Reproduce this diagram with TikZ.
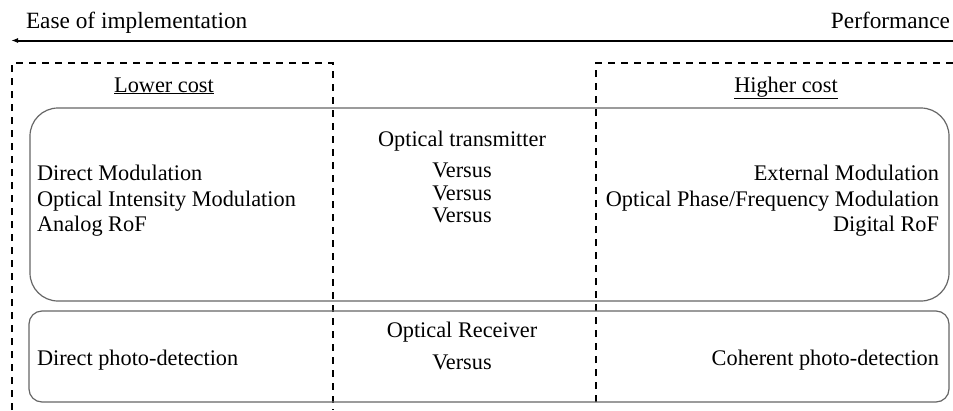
\documentclass[tikz,border=0pt]{standalone}
\usepackage{fontspec}
\setmainfont{Liberation Serif}
\usetikzlibrary{arrows.meta}
\begin{document}
\begin{tikzpicture}[x=1pt,y=-1pt,
  every node/.style={inner sep=0pt,outer sep=0pt,font=\fontsize{22.3}{26}\selectfont},
  toplbl/.style={font=\fontsize{23.3}{27}\selectfont},
  dashbox/.style={line width=1.9pt,dash pattern=on 7pt off 6pt},
  roundbox/.style={draw=black!60,line width=1.2pt},
  lbl/.style={anchor=base west},
  rlbl/.style={anchor=base east},
  clbl/.style={anchor=base}]
\useasboundingbox (0,0) rectangle (953,410);
% top labels and arrow
\node[lbl,toplbl] (ease) at (26,28) {Ease of implementation};
\node[rlbl,toplbl] (perf) at (950,28) {Performance};
\coordinate (arrR) at (953,40.5);
\coordinate (arrL) at (11,40.5);
\draw[line width=2pt,-{Latex[length=7pt,width=5pt]}] (arrR) -- (arrL);
% dashed boxes
\draw[dashbox] (12,410) -- (12,63) -- (333,63) -- (333,410);
\draw[dashbox] (596,402) -- (596,63) -- (953,63);
\node[clbl] (low) at (164,92) {\underline{Lower cost}};
\node[clbl] (high) at (786,92) {\underline{Higher cost}};
% rounded boxes
\draw[roundbox,rounded corners=28pt] (30,108) rectangle (949,301);
\draw[roundbox,rounded corners=13pt] (29,311) rectangle (949,402);
% transmitter
\node[clbl] (tx) at (462,146) {Optical transmitter};
\node[clbl] (v1) at (462,177) {Versus};
\node[clbl] (v2) at (462,200) {Versus};
\node[clbl] (v3) at (462,222) {Versus};
\node[lbl] (l1) at (37,180) {Direct Modulation};
\node[lbl] (l2) at (37,206) {Optical Intensity Modulation};
\node[lbl] (l3) at (37,231) {Analog RoF};
\node[rlbl] (r1) at (939,180) {External Modulation};
\node[rlbl] (r2) at (939,206) {Optical Phase/Frequency Modulation};
\node[rlbl] (r3) at (939,231) {Digital RoF};
% receiver
\node[clbl] (rx) at (462,337) {Optical Receiver};
\node[clbl] (v4) at (462,369) {Versus};
\node[lbl] (l4) at (37,365) {Direct photo-detection};
\node[rlbl] (r4) at (939,365) {Coherent photo-detection};
\end{tikzpicture}
\end{document}
